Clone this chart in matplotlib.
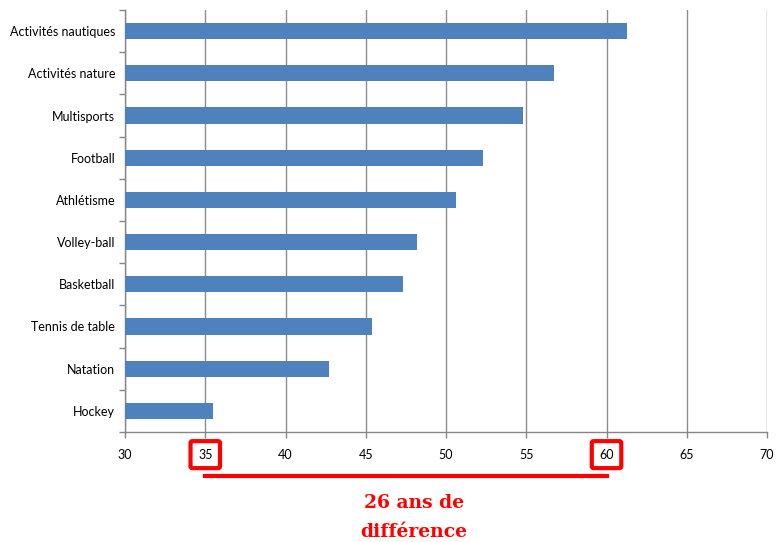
import numpy as np
import matplotlib.pyplot as plt
from matplotlib.transforms import blended_transform_factory

# données
sports = ["Activités nautiques", "Activités nature", "Multisports", "Football",
          "Athlétisme", "Volley-ball", "Basketball", "Tennis de table",
          "Natation", "Hockey"]
ages = [61.3, 56.7, 54.8, 52.3, 50.6, 48.2, 47.3, 45.4, 42.7, 35.5]
x_ticks = [30, 35, 40, 45, 50, 55, 60, 65, 70]
marked = [35, 60]
note = "26 ans de\ndifférence"

plt.rcParams['font.family'] = ['Lato', 'DejaVu Sans']

fig = plt.figure(figsize=(7.78, 5.42), dpi=100)
ax = fig.add_axes([0.1607, 0.203, 0.8252, 0.7785])

pos = np.arange(len(sports))[::-1]
ax.barh(pos, ages, height=0.38, color="#4F81BD", left=0, zorder=3)

ax.set_xlim(30, 70)
ax.set_ylim(-0.5, len(sports) - 0.5)
ax.set_xticks(x_ticks)
ax.set_xticklabels([str(t) for t in x_ticks], fontsize=9)
ax.set_yticks(pos)
ax.set_yticklabels(sports, fontsize=9)
ax.set_yticks(np.arange(-0.5, len(sports), 1), minor=True)

ax.tick_params(axis='y', which='major', length=0, pad=7)
ax.tick_params(axis='y', which='minor', length=4, color="#868686", width=1)
ax.tick_params(axis='x', length=4, color="#868686", width=1, pad=8)

ax.grid(axis='x', color="#8C8C8C", linewidth=1, zorder=0)
for s in ['top', 'right']:
    ax.spines[s].set_visible(False)
for s in ['left', 'bottom']:
    ax.spines[s].set_color("#868686")
    ax.spines[s].set_linewidth(1)

# cadres rouges autour de 35 et 60
for lab in ax.get_xticklabels():
    if lab.get_text() in [str(m) for m in marked]:
        lab.set_bbox(dict(facecolor='none', edgecolor='red', linewidth=3,
                          boxstyle='round,pad=0.6,rounding_size=0.15'))

trans = blended_transform_factory(ax.transData, ax.transAxes)
ax.plot(marked, [-0.104, -0.104], color='red', linewidth=3,
        transform=trans, clip_on=False)
ax.text(48, -0.203, note, transform=trans, ha='center', va='center',
        color='red', fontsize=13.5, fontweight='bold', family='DejaVu Serif',
        linespacing=1.75)

fig.savefig("out.png", dpi=100)
